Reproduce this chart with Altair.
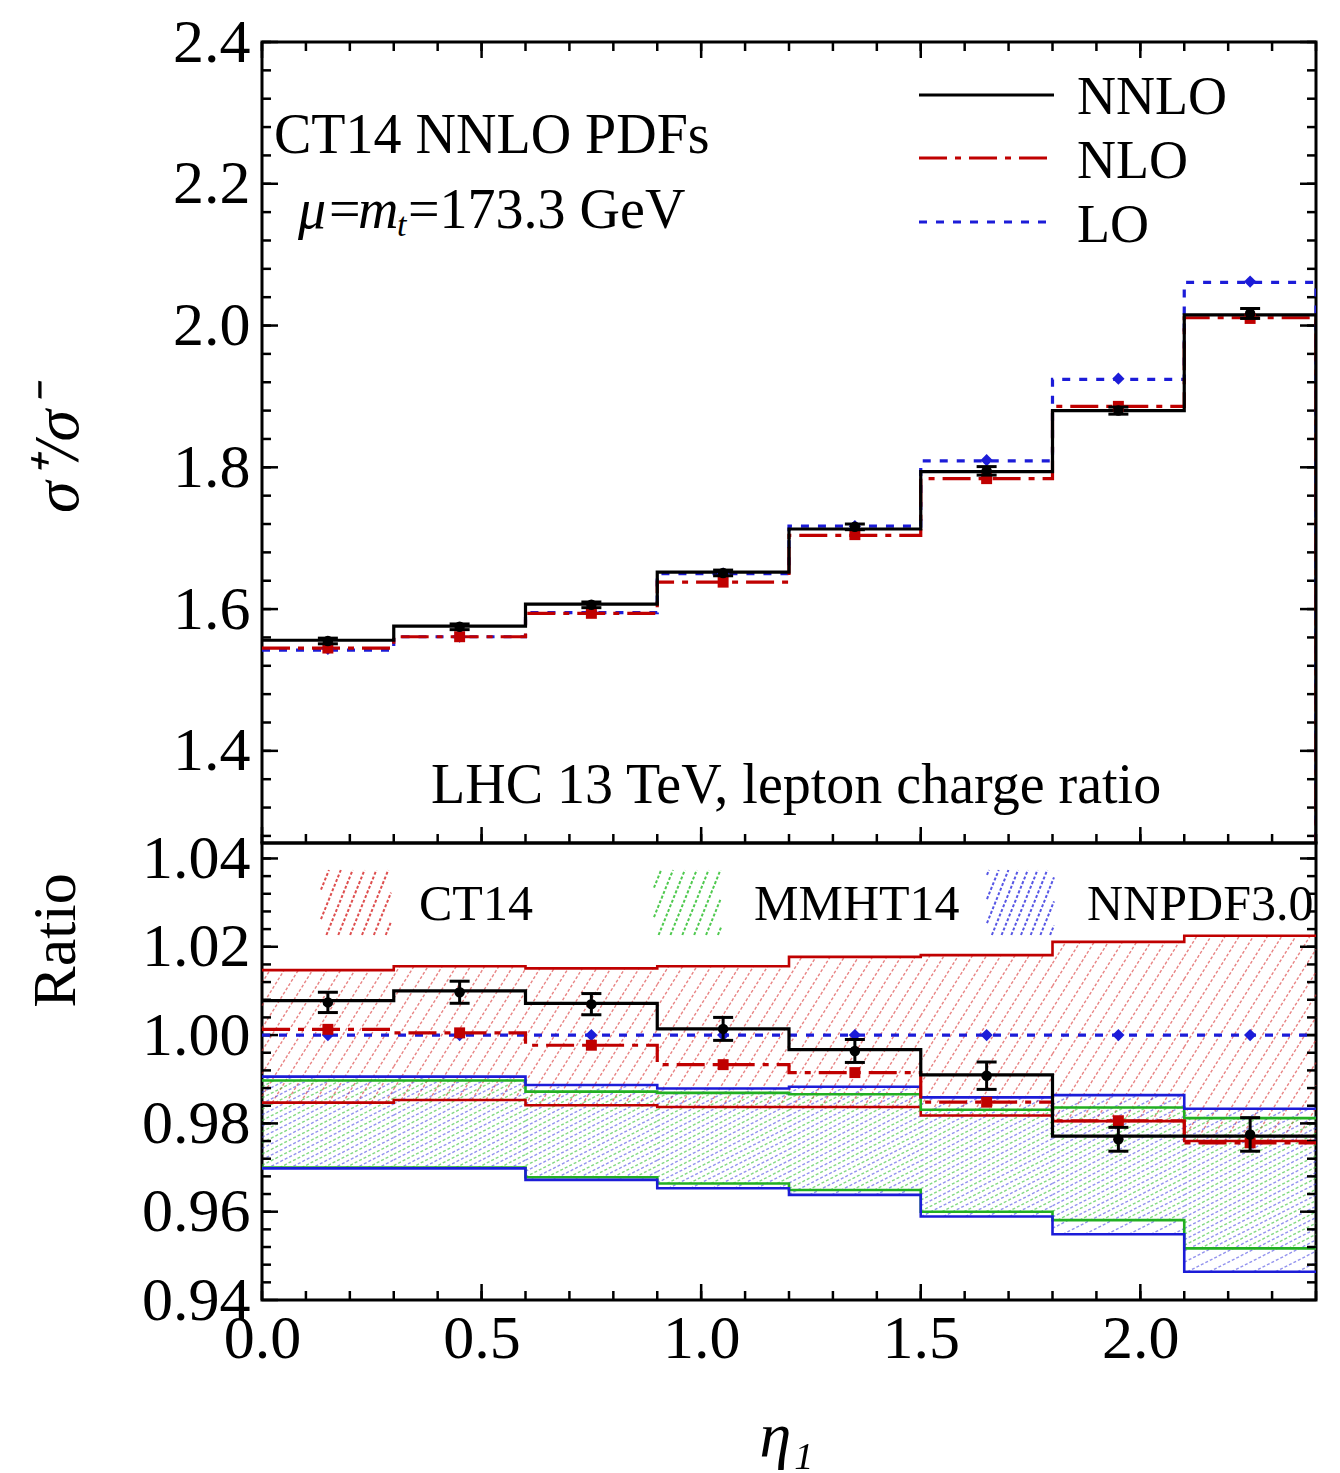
import math
import altair as alt
import numpy as np
import pandas as pd

# ---------------- data ----------------
edges = [0.0, 0.3, 0.6, 0.9, 1.2, 1.5, 1.8, 2.1, 2.4]
centers = [0.15, 0.45, 0.75, 1.05, 1.35, 1.65, 1.95, 2.25]

top_nnlo = [1.556, 1.576, 1.607, 1.652, 1.713, 1.794, 1.880, 2.015]
top_nlo = [1.545, 1.561, 1.594, 1.638, 1.704, 1.784, 1.886, 2.011]
top_lo = [1.542, 1.561, 1.595, 1.650, 1.717, 1.809, 1.924, 2.061]
top_nnlo_pts = [1.555, 1.575, 1.606, 1.651, 1.716, 1.795, 1.880, 2.017]
top_nnlo_err = [0.004, 0.004, 0.004, 0.004, 0.004, 0.006, 0.005, 0.007]
top_nlo_pts = [1.545, 1.561, 1.594, 1.638, 1.705, 1.784, 1.886, 2.010]
top_lo_pts = [1.544, 1.561, 1.597, 1.650, 1.717, 1.810, 1.925, 2.062]

r_nnlo = [1.0078, 1.0100, 1.0072, 1.0014, 0.9967, 0.9910, 0.9771, 0.9771]
r_nnlo_pts = [1.0074, 1.0097, 1.0070, 1.0014, 0.9964, 0.9908, 0.9764, 0.9775]
r_nnlo_err = [0.0023, 0.0025, 0.0024, 0.0026, 0.0026, 0.0031, 0.0027, 0.0038]
r_nlo = [1.0013, 1.0005, 0.9977, 0.9933, 0.9915, 0.9848, 0.9806, 0.9756]
r_lo = [1.0, 1.0, 1.0, 1.0, 1.0, 1.0, 1.0, 1.0]

ct14_hi = [1.0147, 1.0156, 1.0151, 1.0156, 1.0177, 1.0181, 1.0211, 1.0225]
ct14_lo = [0.9847, 0.9853, 0.9841, 0.9837, 0.9837, 0.9818, 0.9805, 0.9760]
mmht_hi = [0.9897, 0.9897, 0.9872, 0.9869, 0.9866, 0.9831, 0.9836, 0.9812]
mmht_lo = [0.9700, 0.9700, 0.9678, 0.9664, 0.9649, 0.9600, 0.9581, 0.9517]
nnpdf_hi = [0.9906, 0.9906, 0.9887, 0.9879, 0.9883, 0.9859, 0.9864, 0.9833]
nnpdf_lo = [0.9698, 0.9698, 0.9672, 0.9653, 0.9638, 0.9589, 0.9549, 0.9464]

top_y_ticks = [1.4, 1.6, 1.8, 2.0, 2.2, 2.4]
bot_y_ticks = [0.94, 0.96, 0.98, 1.00, 1.02, 1.04]
x_ticks = [0.0, 0.5, 1.0, 1.5, 2.0]

# ---------------- layout / style ----------------
W, HT, HB = 1054, 801, 457
XDOM = [0.0, 2.4]
TDOM = [1.27, 2.4]
BDOM = [0.94, 1.0435]
FONT = "Liberation Serif"
RED = "#c00000"
BLUE = "#1c1cd8"
GREEN = "#22b022"
HRED = "#d83030"
HGREEN = "#30c030"
HBLUE = "#3a3ae0"

xs = alt.Scale(domain=XDOM, nice=False, zero=False)
ts = alt.Scale(domain=TDOM, nice=False, zero=False)
bs = alt.Scale(domain=BDOM, nice=False, zero=False)

top_yaxis = alt.Axis(values=top_y_ticks, format=".1f", ticks=False, domain=False, grid=False,
                     labelFont=FONT, labelFontSize=62, labelPadding=12, labelColor="black",
                     labelOverlap=False, labelFlush=False,
                     title="σ⁺/σ⁻", titleFont=FONT, titleFontSize=64, titleFontStyle="italic",
                     titleFontWeight="normal", titleAngle=270, titleX=-185, titleY=408,
                     titleAlign="center", titleBaseline="alphabetic", titleColor="black")
bot_yaxis = alt.Axis(values=bot_y_ticks, format=".2f", ticks=False, domain=False, grid=False,
                     labelFont=FONT, labelFontSize=62, labelPadding=12, labelColor="black",
                     labelOverlap=False, labelFlush=False,
                     title="Ratio", titleFont=FONT, titleFontSize=62,
                     titleFontWeight="normal", titleAngle=270, titleX=-188, titleY=97,
                     titleAlign="center", titleBaseline="alphabetic", titleColor="black")
bot_xaxis = alt.Axis(values=x_ticks, format=".1f", ticks=False, domain=False, grid=False,
                     labelFont=FONT, labelFontSize=62, labelPadding=8, labelColor="black",
                     labelOverlap=False, labelFlush=False,
                     title="η₁", titleFont=FONT, titleFontSize=64, titleFontStyle="italic",
                     titleFontWeight="normal", titleX=524, titleY=155,
                     titleAlign="center", titleBaseline="alphabetic", titleColor="black")


def step_df(vals, drop=None):
    ys = list(vals) + [vals[-1]]
    df = pd.DataFrame({"x": edges, "y": ys, "i": list(range(len(edges)))})
    if drop is not None:
        df = pd.concat([df, pd.DataFrame({"x": [edges[-1]], "y": [drop], "i": [len(edges)]})],
                       ignore_index=True)
    return df


def step_line(vals, color, width, ysc, yax, xax, dash=None, drop=None):
    kw = dict(interpolate="step-after", color=color, strokeWidth=width, clip=True)
    if dash is not None:
        kw["strokeDash"] = dash
    return alt.Chart(step_df(vals, drop)).mark_line(**kw).encode(
        x=alt.X("x:Q", scale=xs, axis=xax),
        y=alt.Y("y:Q", scale=ysc, axis=yax),
        order=alt.Order("i:Q"),
    )


def hatch_segments(rects, dom, H, ang, d, phase):
    """rects: list of (x0, x1, lo, hi) in data units. Hatch lines computed in pixel space."""
    sx = W / (XDOM[1] - XDOM[0])
    sy = H / (dom[1] - dom[0])
    th = math.radians(ang)
    vx, vy = math.cos(th), math.sin(th)
    nx, ny = math.sin(th), -math.cos(th)
    rows = []
    for (x0, x1, lo, hi) in rects:
        X0, X1 = x0 * sx, x1 * sx
        Y0, Y1 = (lo - dom[0]) * sy, (hi - dom[0]) * sy
        ks = [X * nx + Y * ny for X in (X0, X1) for Y in (Y0, Y1)]
        kmin, kmax = min(ks), max(ks)
        k = math.ceil((kmin - phase) / d) * d + phase
        while k <= kmax:
            px, py = k * nx, k * ny
            tlo, thi = -1e9, 1e9
            for p, v, a, b in ((px, vx, X0, X1), (py, vy, Y0, Y1)):
                if abs(v) < 1e-12:
                    if p < a or p > b:
                        tlo, thi = 1, 0
                else:
                    t1, t2 = (a - p) / v, (b - p) / v
                    tlo = max(tlo, min(t1, t2))
                    thi = min(thi, max(t1, t2))
            if thi - tlo > 0.5:
                ax_, ay_ = px + tlo * vx, py + tlo * vy
                bx_, by_ = px + thi * vx, py + thi * vy
                rows.append({"x": ax_ / sx, "x2": bx_ / sx,
                             "y": ay_ / sy + dom[0], "y2": by_ / sy + dom[0]})
            k += d
    return pd.DataFrame(rows)


def band_rects(lo, hi):
    return [(edges[i], edges[i + 1], lo[i], hi[i]) for i in range(len(lo))]


def hatch_layer(df, color, ysc, yax, xax, width=1.4, dash=(3, 2), opacity=0.75):
    return alt.Chart(df).mark_rule(color=color, strokeWidth=width, strokeDash=list(dash),
                                   opacity=opacity).encode(
        x=alt.X("x:Q", scale=xs, axis=xax), x2="x2:Q",
        y=alt.Y("y:Q", scale=ysc, axis=yax), y2="y2:Q")


def tick_layers(ysc, yax, xax, ymaj, ymin, H, top_edge_x, bottom_edge_x):
    L = []
    for vals, ln in ((ymaj, 16), (ymin, 9)):
        df = pd.DataFrame({"v": vals})
        L.append(alt.Chart(df).mark_rule(color="black", strokeWidth=2.5).encode(
            y=alt.Y("v:Q", scale=ysc, axis=yax), x=alt.value(0), x2=alt.value(ln)))
        L.append(alt.Chart(df).mark_rule(color="black", strokeWidth=2.5).encode(
            y=alt.Y("v:Q", scale=ysc, axis=yax), x=alt.value(W - ln), x2=alt.value(W)))
    for vals, ln in ((x_ticks, 16), (list(np.round(np.arange(0, 2.4001, 0.1), 3)), 9)):
        df = pd.DataFrame({"v": vals})
        if top_edge_x:
            L.append(alt.Chart(df).mark_rule(color="black", strokeWidth=2.5).encode(
                x=alt.X("v:Q", scale=xs, axis=xax), y=alt.value(0), y2=alt.value(ln)))
        if bottom_edge_x:
            L.append(alt.Chart(df).mark_rule(color="black", strokeWidth=2.5).encode(
                x=alt.X("v:Q", scale=xs, axis=xax), y=alt.value(H - ln), y2=alt.value(H)))
    return L


def txt(s, x, y, size, style="normal", align="left", baseline="alphabetic"):
    return alt.Chart(pd.DataFrame({"t": [s]})).mark_text(
        font=FONT, fontSize=size, fontStyle=style, align=align, baseline=baseline,
        color="black").encode(text="t:N", x=alt.value(x), y=alt.value(y))


def pts_df(vals, err=None):
    d = {"x": centers, "y": vals}
    if err is not None:
        d["lo"] = [v - e for v, e in zip(vals, err)]
        d["hi"] = [v + e for v, e in zip(vals, err)]
    return pd.DataFrame(d)


def markers(vals, err, ysc, yax, xax, nlo, lo):
    L = []
    L.append(alt.Chart(pts_df(lo)).mark_point(shape="diamond", filled=True, size=150, color=BLUE,
                                              opacity=1).encode(
        x=alt.X("x:Q", scale=xs, axis=xax), y=alt.Y("y:Q", scale=ysc, axis=yax)))
    L.append(alt.Chart(pts_df(nlo)).mark_point(shape="square", filled=True, size=120, color=RED,
                                               opacity=1).encode(
        x=alt.X("x:Q", scale=xs, axis=xax), y=alt.Y("y:Q", scale=ysc, axis=yax)))
    e = pts_df(vals, err)
    L.append(alt.Chart(e).mark_rule(color="black", strokeWidth=3).encode(
        x=alt.X("x:Q", scale=xs, axis=xax), y=alt.Y("lo:Q", scale=ysc, axis=yax), y2="hi:Q"))
    for f in ("lo", "hi"):
        L.append(alt.Chart(e).mark_tick(color="black", orient="horizontal", size=20, thickness=3,
                                        opacity=1).encode(
            x=alt.X("x:Q", scale=xs, axis=xax), y=alt.Y(f + ":Q", scale=ysc, axis=yax)))
    L.append(alt.Chart(e).mark_point(shape="circle", filled=True, size=110, color="black",
                                     opacity=1).encode(
        x=alt.X("x:Q", scale=xs, axis=xax), y=alt.Y("y:Q", scale=ysc, axis=yax)))
    return L


# ---------------- top panel ----------------
T = []
T += tick_layers(ts, top_yaxis, None, top_y_ticks,
                 list(np.round(np.arange(1.28, 2.4001, 0.04), 3)), HT, True, True)
T.append(step_line(top_lo, BLUE, 3.2, ts, top_yaxis, None, dash=[8, 9], drop=0))
T.append(step_line(top_nlo, RED, 3.2, ts, top_yaxis, None, dash=[28, 8, 6, 8], drop=0))
T.append(step_line(top_nnlo, "black", 3.2, ts, top_yaxis, None, drop=0))
T += markers(top_nnlo_pts, top_nnlo_err, ts, top_yaxis, None, top_nlo_pts, top_lo_pts)

# legend (top right)
leg_lines = [("black", None, 53), (RED, [28, 8, 6, 8], 116), (BLUE, [8, 9], 180)]
for col, dash, yy in leg_lines:
    kw = dict(color=col, strokeWidth=3.2)
    if dash is not None:
        kw["strokeDash"] = dash
    T.append(alt.Chart(pd.DataFrame({"a": [0]})).mark_rule(**kw).encode(
        x=alt.value(657), x2=alt.value(792), y=alt.value(yy)))
T.append(txt("NNLO", 815, 72, 54))
T.append(txt("NLO", 815, 136, 54))
T.append(txt("LO", 815, 200, 54))

# annotations
T.append(txt("CT14 NNLO PDFs", 12, 111, 56))
T.append(txt("μ", 36, 186, 56, style="italic"))
T.append(txt("=", 67, 186, 56))
T.append(txt("m", 96, 186, 56, style="italic"))
T.append(txt("t", 135, 194, 34, style="italic"))
T.append(txt("=173.3 GeV", 146, 186, 56))
T.append(txt("LHC 13 TeV, lepton charge ratio", 169, 761, 56))

top = alt.layer(*T).properties(width=W, height=HT)

# ---------------- bottom panel ----------------
B = []
ct14_h = hatch_segments(band_rects(ct14_lo, ct14_hi), BDOM, HB, 58, 12, 0)
mmht_h = hatch_segments(band_rects(mmht_lo, mmht_hi), BDOM, HB, 27, 10, 0)
nnpdf_h = hatch_segments(band_rects(nnpdf_lo, nnpdf_hi), BDOM, HB, 27, 10, 5)
B.append(hatch_layer(ct14_h, HRED, bs, bot_yaxis, bot_xaxis, opacity=0.6))
B.append(hatch_layer(mmht_h, HGREEN, bs, bot_yaxis, bot_xaxis, opacity=0.6))
B.append(hatch_layer(nnpdf_h, HBLUE, bs, bot_yaxis, bot_xaxis, opacity=0.55))


def box(px0, px1, py0, py1):
    x0 = px0 / W * 2.4
    x1 = px1 / W * 2.4
    hi = BDOM[1] - py0 / HB * (BDOM[1] - BDOM[0])
    lo = BDOM[1] - py1 / HB * (BDOM[1] - BDOM[0])
    return [(x0, x1, lo, hi)]


B.append(hatch_layer(hatch_segments(box(59, 129, 27, 92), BDOM, HB, 68, 11, 0), HRED, bs,
                     bot_yaxis, bot_xaxis, width=2, opacity=0.85))
B.append(hatch_layer(hatch_segments(box(392, 459, 27, 92), BDOM, HB, 68, 11, 0), HGREEN, bs,
                     bot_yaxis, bot_xaxis, width=2, opacity=0.85))
B.append(hatch_layer(hatch_segments(box(725, 792, 27, 92), BDOM, HB, 68, 9, 0), HBLUE, bs,
                     bot_yaxis, bot_xaxis, width=2, opacity=0.85))
B.append(txt("CT14", 157, 77, 50))
B.append(txt("MMHT14", 492, 77, 50))
B.append(txt("NNPDF3.0", 825, 77, 50))

# band edges
for lo, hi, col in ((ct14_lo, ct14_hi, RED), (mmht_lo, mmht_hi, GREEN), (nnpdf_lo, nnpdf_hi, BLUE)):
    B.append(step_line(hi, col, 2.6, bs, bot_yaxis, bot_xaxis))
    B.append(step_line(lo, col, 2.6, bs, bot_yaxis, bot_xaxis))

B += tick_layers(bs, bot_yaxis, bot_xaxis, bot_y_ticks,
                 list(np.round(np.arange(0.944, 1.0435, 0.004), 4)), HB, False, True)
B.append(step_line(r_lo, BLUE, 3.2, bs, bot_yaxis, bot_xaxis, dash=[8, 9]))
B.append(step_line(r_nlo, RED, 3.2, bs, bot_yaxis, bot_xaxis, dash=[28, 8, 6, 8]))
B.append(step_line(r_nnlo, "black", 3.2, bs, bot_yaxis, bot_xaxis))
B += markers(r_nnlo_pts, r_nnlo_err, bs, bot_yaxis, bot_xaxis, r_nlo, r_lo)

bot = alt.layer(*B).properties(width=W, height=HB)

chart = alt.vconcat(top, bot, spacing=0, bounds="flush").properties(
    padding={"left": 22, "top": 9, "right": 10, "bottom": 4},
    background="white",
).configure_view(stroke="black", strokeWidth=3).configure_concat(spacing=0)

chart.save("out.html", embed_options={"renderer": "svg", "actions": False})
